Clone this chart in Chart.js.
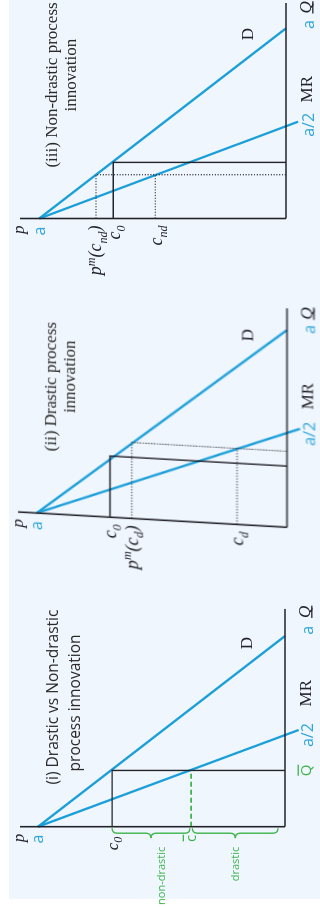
<!DOCTYPE html>
<html>
<head>
<meta charset="utf-8">
<script src="https://cdn.jsdelivr.net/npm/chart.js@4.4.1/dist/chart.umd.min.js"></script>
<style>
html,body{margin:0;padding:0;width:320px;height:907px;overflow:hidden;background:#ffffff;}
#wrap{position:absolute;left:0;top:0;width:907px;height:320px;transform-origin:0 0;transform:translate(0,907px) rotate(-90deg);}
#bg{position:absolute;left:8px;top:9px;width:899px;height:311px;background:#f0f6fd;}
canvas{position:absolute;left:0;top:0;}
#c2{transform-origin:0 287px;transform:skewX(-3.26deg);}
</style>
</head>
<body>
<div id="wrap">
  <div id="bg"></div>
  <canvas id="c1" width="907" height="320"></canvas>
  <canvas id="c2" width="907" height="320"></canvas>
  <canvas id="c3" width="907" height="320"></canvas>
</div>
<script>
// ================= DATA (Q on x, p on y; a = 10) =================
// Panel (i) Drastic vs Non-drastic process innovation
const p1Title   = ['(i) Drastic vs Non-drastic', 'process innovation'];
const p1Demand  = [[0, 10], [10, 0]];
const p1MR      = [[0, 10], [5.07, -0.55]];
const p1Cost    = [[0, 7.0], [2.95, 7.0], [2.95, 0]];
const p1CBar    = [[0, 3.8], [2.95, 3.8]];
const p1AxisP   = [[0, 0], [0, 10.73]];
const p1AxisQ   = [[0, 0], [11.42, 0]];
const p1Braces  = [[7.0, 3.85], [3.75, 0.28]];
const p1BraceTx = [['non-drastic', 4.99], ['drastic', 2.0]];
const p1PLabels = [['p', 10.81], ['a', 10], ['c_0', 7.0], ['c', 3.8]];
const p1QLabels = [['Q', 2.95], ['a/2', 4.8], ['MR', 7.0], ['a', 10.3], ['Q', 11.27]];
const p1DLabel  = ['D', 9.63, 1.55];

// Panel (ii) Drastic process innovation
const p2Title   = ['(ii) Drastic process', 'innovation'];
const p2Demand  = [[0, 10], [10, 0]];
const p2MR      = [[0, 10], [5.03, -0.52]];
const p2Cost    = [[0, 7.07], [3.1, 7.07], [3.1, 0]];
const p2Mono    = [[0, 6.2], [3.85, 6.2], [3.85, 0]];
const p2CDrast  = [[0, 2.0], [3.85, 2.0]];
const p2AxisP   = [[0, 0], [0, 10.75]];
const p2AxisQ   = [[0, 0], [11.1, 0]];
const p2PLabels = [['p', 10.79], ['a', 10], ['c_0', 7.07], ['p^m(c_d)', 6.2], ['c_d', 2.0]];
const p2QLabels = [['a/2', 4.8], ['MR', 6.7], ['a', 10.1], ['Q', 10.9]];
const p2DLabel  = ['D', 9.63, 1.6];

// Panel (iii) Non-drastic process innovation
const p3Title   = ['(iii) Non-drastic process', 'innovation'];
const p3Demand  = [[0, 10], [10, 0]];
const p3MR      = [[0, 10], [5.09, -0.49]];
const p3Cost    = [[0, 7.0], [2.95, 7.0], [2.95, 0]];
const p3Mono    = [[0, 7.7], [2.3, 7.7], [2.3, 0]];
const p3CNd     = [[0, 5.3], [2.3, 5.3]];
const p3AxisP   = [[0, 0], [0, 10.78]];
const p3AxisQ   = [[0, 0], [11.33, 0]];
const p3PLabels = [['p', 10.86], ['a', 10], ['p^m(c_{nd})', 7.72], ['c_0', 6.97], ['c_{nd}', 5.25]];
const p3QLabels = [['a/2', 4.92], ['MR', 6.8], ['a', 10.2], ['Q', 11.1]];
const p3DLabel  = ['D', 9.7, 1.58];

// ================= STYLE / LAYOUT =================
const BLUE = '#1b9fd9', BLUE_TX = '#2ea6dc', GREEN = '#3db44b', INK = '#23232b';
const SERIF = '"Liberation Serif", "Times New Roman", serif';
const SANS = '"Open Sans", "DejaVu Sans", sans-serif';
const STYLES = {
  axisVar:   {family: SERIF, size: 17, italic: true, color: INK, gap: 7, qoff: 19},
  axisVarU:  {family: SERIF, size: 17, italic: true, color: INK, gap: 7, qoff: 19, underline: true},
  blue:      {family: SANS, size: 16, color: BLUE_TX, gap: 8, qoff: 23},
  cost:      {family: SERIF, size: 18, italic: true, color: INK, gap: 7, qoff: 20},
  costFar:   {family: SERIF, size: 17, italic: true, color: INK, gap: 10, qoff: 20},
  greenBar:  {family: SANS, size: 15, color: GREEN, gap: 8, qoff: 21, overline: true},
  serif:     {family: SERIF, size: 17, color: INK, gap: 7, qoff: 20},
  greenSmall:{family: SANS, size: 11, color: GREEN, gap: 20, qoff: 20},
  titleSans: {family: SANS, size: 15.5, color: '#2a2a2a'},
  titleSerif:{family: SERIF, size: 17, color: '#2a2a2a'}
};
const p1PStyles = ['axisVar', 'blue', 'costFar', 'greenBar'];
const p1QStyles = ['greenBar', 'blue', 'serif', 'blue', 'axisVarU'];
const p2PStyles = ['axisVar', 'blue', 'cost', 'cost', 'cost'];
const p2QStyles = ['blue', 'serif', 'blue', 'axisVarU'];
const p3PStyles = ['axisVar', 'blue', 'cost', 'cost', 'cost'];
const p3QStyles = ['blue', 'serif', 'blue', 'axisVarU'];
const TITLE_AT = {
  c1: [[6.8, 9.39], [6.49, 8.5]],
  c2: [[6.45, 9.47], [7.01, 8.71]],
  c3: [[7.02, 9.53], [7.54, 8.76]]
};
const PADS = {
  c1: {left: 80.3, right: 636, top: 38, bottom: 35},
  c2: {left: 379.7, right: 330, top: 36.7, bottom: 33},
  c3: {left: 688.5, right: 28.3, top: 39.3, bottom: 34}
};

// ================= DRAWING HELPERS =================
function parseRich(s) {
  const segs = []; let i = 0;
  while (i < s.length) {
    const ch = s[i];
    if (ch === '_' || ch === '^') {
      let t;
      if (s[i + 1] === '{') { const j = s.indexOf('}', i); t = s.slice(i + 2, j); i = j + 1; }
      else { t = s[i + 1]; i += 2; }
      segs.push({t, k: ch === '_' ? 'sub' : 'sup'});
    } else {
      let j = i; while (j < s.length && s[j] !== '_' && s[j] !== '^') j++;
      segs.push({t: s.slice(i, j), k: 'n'}); i = j;
    }
  }
  return segs;
}
function drawRich(ctx, x, y, s, st, align) {
  const segs = parseRich(s);
  const fontFor = k => `${st.italic ? 'italic ' : ''}${k === 'n' ? st.size : Math.round(st.size * 0.68)}px ${st.family}`;
  let w = 0;
  segs.forEach(g => { ctx.font = fontFor(g.k); g.w = ctx.measureText(g.t).width; w += g.w; });
  let cx = align === 'right' ? x - w : (align === 'center' ? x - w / 2 : x);
  const x0 = cx;
  const base = y + st.size * 0.33;
  ctx.fillStyle = st.color; ctx.textBaseline = 'alphabetic'; ctx.textAlign = 'left';
  segs.forEach(g => {
    ctx.font = fontFor(g.k);
    const dy = g.k === 'sub' ? st.size * 0.28 : (g.k === 'sup' ? -st.size * 0.38 : 0);
    ctx.fillText(g.t, cx, base + dy);
    cx += g.w;
  });
  ctx.strokeStyle = st.color; ctx.lineWidth = 1.3; ctx.setLineDash([]);
  if (st.overline) { ctx.beginPath(); ctx.moveTo(x0 + 0.5, base - st.size * 0.85); ctx.lineTo(x0 + w, base - st.size * 0.85); ctx.stroke(); }
  if (st.underline) { ctx.beginPath(); ctx.moveTo(x0, base + st.size * 0.13); ctx.lineTo(x0 + w, base + st.size * 0.13); ctx.stroke(); }
}
function brace(ctx, x, y1, y2, w) {
  const h = w / 2, ym = (y1 + y2) / 2;
  ctx.beginPath();
  ctx.moveTo(x, y1);
  ctx.quadraticCurveTo(x - h, y1, x - h, y1 + h);
  ctx.lineTo(x - h, ym - h);
  ctx.quadraticCurveTo(x - h, ym, x - w, ym);
  ctx.quadraticCurveTo(x - h, ym, x - h, ym + h);
  ctx.lineTo(x - h, y2 - h);
  ctx.quadraticCurveTo(x - h, y2, x, y2);
  ctx.stroke();
}
const txtPlugin = {
  id: 'txt',
  afterDatasetsDraw(chart) {
    const o = chart.options.plugins.txt; if (!o) return;
    const ctx = chart.ctx, xs = chart.scales.x, ys = chart.scales.y;
    const X = v => xs.getPixelForValue(v), Y = v => ys.getPixelForValue(v);
    ctx.save();
    (o.braces || []).forEach(b => {
      ctx.strokeStyle = GREEN; ctx.lineWidth = 1.4; ctx.setLineDash([]);
      const ya = Y(b[0]), yb = Y(b[1]);
      brace(ctx, X(0) - 1.5, Math.min(ya, yb), Math.max(ya, yb), 10);
    });
    (o.labels || []).forEach(l => {
      const st = STYLES[l.style];
      let x, y, align = 'center';
      if (l.mode === 'p') { x = X(0) - st.gap; y = Y(l.v); align = 'right'; }
      else if (l.mode === 'q') { x = X(l.v); y = Y(0) + st.qoff; }
      else { x = X(l.q); y = Y(l.p); }
      drawRich(ctx, x, y, l.text, st, align);
    });
    ctx.restore();
  }
};

const pts = arr => arr.map(([x, y]) => ({x, y}));
function line(arr, color, width, dash) {
  return {data: pts(arr), showLine: true, borderColor: color, borderWidth: width, borderDash: dash || [],
          pointRadius: 0, pointHoverRadius: 0, fill: false, clip: false, tension: 0,
          borderCapStyle: 'butt', borderJoinStyle: 'miter'};
}
function arrow(pt, rot) {
  return {data: pts([pt]), showLine: false, pointStyle: 'triangle', pointRadius: 5, pointHoverRadius: 5,
          pointRotation: rot, backgroundColor: INK, borderColor: INK, pointBorderWidth: 0, borderWidth: 0, clip: false};
}
function buildLabels(id, titles, titleStyle, pLab, pSty, qLab, qSty, dLab, extra) {
  const labels = [];
  titles.forEach((t, i) => labels.push({mode: 'f', text: t, q: TITLE_AT[id][i][0], p: TITLE_AT[id][i][1], style: titleStyle}));
  pLab.forEach((l, i) => labels.push({mode: 'p', text: l[0], v: l[1], style: pSty[i]}));
  qLab.forEach((l, i) => labels.push({mode: 'q', text: l[0], v: l[1], style: qSty[i]}));
  labels.push({mode: 'f', text: dLab[0], q: dLab[1], p: dLab[2], style: 'serif'});
  (extra || []).forEach(e => labels.push(e));
  return labels;
}
function makeChart(id, datasets, txt) {
  return new Chart(document.getElementById(id), {
    type: 'scatter',
    data: {datasets},
    options: {
      responsive: false, animation: false, devicePixelRatio: 1, events: [],
      layout: {padding: PADS[id]},
      scales: {
        x: {type: 'linear', min: 0, max: 10, display: false},
        y: {type: 'linear', min: 0, max: 10, display: false}
      },
      plugins: {legend: {display: false}, tooltip: {enabled: false}, txt}
    },
    plugins: [txtPlugin]
  });
}

// ---- Panel (i)
makeChart('c1', [
  line(p1AxisP, INK, 1.6), line(p1AxisQ, INK, 1.6),
  arrow(p1AxisP[1], 0), arrow(p1AxisQ[1], 90),
  line(p1Cost, INK, 1.4),
  line(p1CBar, GREEN, 1.8, [5, 3]),
  line(p1Demand, BLUE, 2.3), line(p1MR, BLUE, 2.3)
], {
  braces: p1Braces,
  labels: buildLabels('c1', p1Title, 'titleSans', p1PLabels, p1PStyles, p1QLabels, p1QStyles, p1DLabel,
    p1BraceTx.map(b => ({mode: 'p', text: b[0], v: b[1], style: 'greenSmall'})))
});

// ---- Panel (ii)
makeChart('c2', [
  line(p2AxisP, INK, 1.6), line(p2AxisQ, INK, 1.6),
  arrow(p2AxisP[1], 0), arrow(p2AxisQ[1], 90),
  line(p2Cost, INK, 1.4),
  line(p2Mono, INK, 1.1, [1.2, 1.6]), line(p2CDrast, INK, 1.1, [1.2, 1.6]),
  line(p2Demand, BLUE, 2.3), line(p2MR, BLUE, 2.3)
], {
  labels: buildLabels('c2', p2Title, 'titleSerif', p2PLabels, p2PStyles, p2QLabels, p2QStyles, p2DLabel)
});

// ---- Panel (iii)
makeChart('c3', [
  line(p3AxisP, INK, 1.6), line(p3AxisQ, INK, 1.6),
  arrow(p3AxisP[1], 0), arrow(p3AxisQ[1], 90),
  line(p3Cost, INK, 1.4),
  line(p3Mono, INK, 1.1, [1.2, 1.6]), line(p3CNd, INK, 1.1, [1.2, 1.6]),
  line(p3Demand, BLUE, 2.3), line(p3MR, BLUE, 2.3)
], {
  labels: buildLabels('c3', p3Title, 'titleSerif', p3PLabels, p3PStyles, p3QLabels, p3QStyles, p3DLabel)
});
</script>
</body>
</html>
